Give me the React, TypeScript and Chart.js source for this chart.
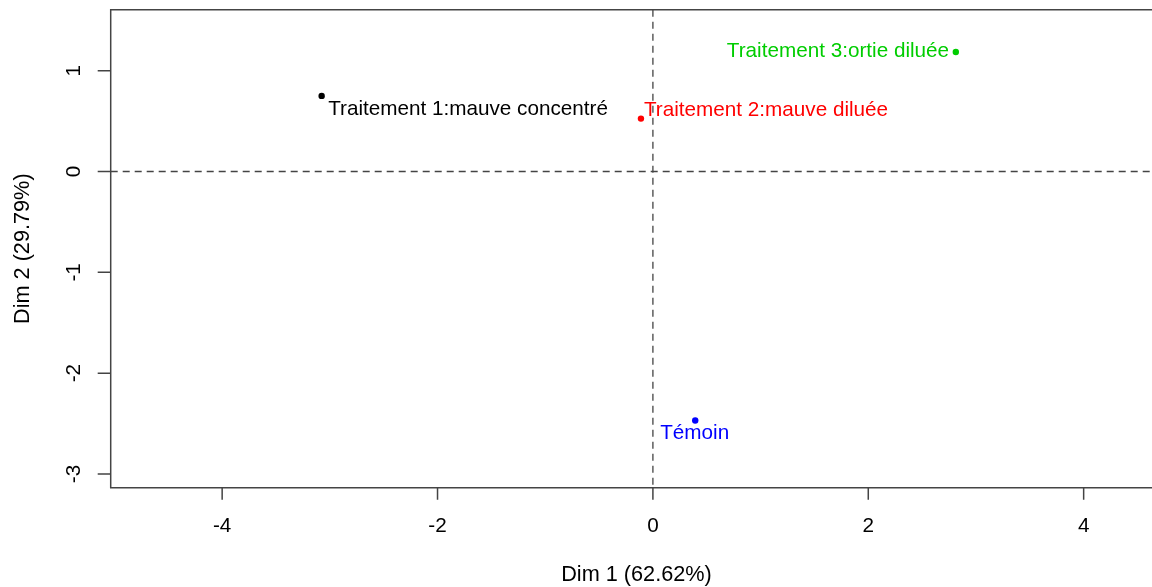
import React, { useEffect, useRef } from "react";
import { Chart, registerables } from "chart.js";

Chart.register(...registerables);

const categories = [
  "Traitement 1:mauve concentré",
  "Traitement 2:mauve diluée",
  "Traitement 3:ortie diluée",
  "Témoin",
];
const dim1 = [-3.076, -0.111, 2.813, 0.393];
const dim2 = [0.75, 0.525, 1.186, -2.47];
const pointColors = ["#000000", "#FF0000", "#00CD00", "#0000FF"];
const xTicks = [-4, -2, 0, 2, 4];
const yTicks = [-3, -2, -1, 0, 1];
const xTitle = "Dim 1 (62.62%)";
const yTitle = "Dim 2 (29.79%)";

const X_MIN = -5.035;
const X_MAX = 4.605;
const X_MAX_FULL = 4.73;
const Y_MIN = -3.136;
const Y_MAX = 1.605;

const labelOffsets = [
  { dx: 6.5, dy: 18.6, align: "left" },
  { dx: 3, dy: -2.3, align: "left" },
  { dx: -6.7, dy: 5, align: "right" },
  { dx: -35, dy: 18.7, align: "left" },
];

const FONT = '20.7px "Liberation Sans", Arial, sans-serif';
const TITLE_FONT = '21.7px "Liberation Sans", Arial, sans-serif';
const AXIS = "#444444";

const rPlot = {
  id: "rPlot",
  beforeDatasetsDraw(chart: any) {
    const { ctx, chartArea } = chart;
    const xs = chart.scales.x;
    const ys = chart.scales.y;
    const { left, top, right, bottom } = chartArea;
    ctx.save();
    // dashed zero lines
    ctx.strokeStyle = AXIS;
    ctx.lineWidth = 1.3;
    ctx.setLineDash([7, 5]);
    const x0 = xs.getPixelForValue(0);
    const y0 = ys.getPixelForValue(0);
    ctx.beginPath();
    ctx.moveTo(left, y0);
    ctx.lineTo(right + 10, y0);
    ctx.moveTo(x0, top);
    ctx.lineTo(x0, bottom);
    ctx.stroke();
    ctx.setLineDash([]);
    // box (right side lies outside the image)
    ctx.lineWidth = 1.5;
    ctx.beginPath();
    ctx.moveTo(right + 20, top);
    ctx.lineTo(left, top);
    ctx.lineTo(left, bottom);
    ctx.lineTo(right + 20, bottom);
    ctx.stroke();
    // ticks
    ctx.beginPath();
    xTicks.forEach((t) => {
      const px = xs.getPixelForValue(t);
      ctx.moveTo(px, bottom);
      ctx.lineTo(px, bottom + 12);
    });
    yTicks.forEach((t) => {
      const py = ys.getPixelForValue(t);
      ctx.moveTo(left, py);
      ctx.lineTo(left - 13, py);
    });
    ctx.stroke();
    // tick labels
    ctx.fillStyle = "#000000";
    ctx.font = FONT;
    ctx.textAlign = "center";
    ctx.textBaseline = "alphabetic";
    xTicks.forEach((t) => {
      ctx.fillText(String(t), xs.getPixelForValue(t), 532);
    });
    yTicks.forEach((t) => {
      ctx.save();
      ctx.translate(80, ys.getPixelForValue(t));
      ctx.rotate(-Math.PI / 2);
      ctx.fillText(String(t), 0, 0);
      ctx.restore();
    });
    // axis titles
    ctx.font = TITLE_FONT;
    const xc = (xs.getPixelForValue(X_MIN) + xs.getPixelForValue(X_MAX_FULL)) / 2;
    ctx.fillText(xTitle, xc, 581);
    ctx.save();
    ctx.translate(28.5, (top + bottom) / 2);
    ctx.rotate(-Math.PI / 2);
    ctx.fillText(yTitle, 0, 0);
    ctx.restore();
    ctx.restore();
  },
  afterDatasetsDraw(chart: any) {
    const { ctx } = chart;
    const xs = chart.scales.x;
    const ys = chart.scales.y;
    ctx.save();
    ctx.font = FONT;
    ctx.textBaseline = "alphabetic";
    categories.forEach((c, i) => {
      const o = labelOffsets[i];
      ctx.fillStyle = pointColors[i];
      ctx.textAlign = o.align;
      ctx.fillText(c, xs.getPixelForValue(dim1[i]) + o.dx, ys.getPixelForValue(dim2[i]) + o.dy);
    });
    ctx.restore();
  },
};

export default function App() {
  const ref = useRef<HTMLCanvasElement | null>(null);
  useEffect(() => {
    if (!ref.current) return;
    const chart = new Chart(ref.current, {
      type: "scatter",
      data: {
        datasets: [
          {
            label: "individus",
            data: dim1.map((x, i) => ({ x, y: dim2[i] })),
            pointBackgroundColor: pointColors,
            pointBorderWidth: 0,
            pointRadius: 3.2,
            pointHoverRadius: 3.2,
          },
        ],
      },
      options: {
        responsive: false,
        animation: false,
        events: [],
        layout: { padding: { left: 110.7, top: 9.7, right: 0, bottom: 99.3 } },
        plugins: { legend: { display: false }, tooltip: { enabled: false } },
        scales: {
          x: { type: "linear", display: false, min: X_MIN, max: X_MAX },
          y: { type: "linear", display: false, min: Y_MIN, max: Y_MAX },
        },
      },
      plugins: [rPlot],
    });
    return () => chart.destroy();
  }, []);
  return (
    <div style={{ position: "fixed", left: 0, top: 0, width: 1152, height: 587, background: "#fff" }}>
      <canvas ref={ref} width={1152} height={587} style={{ display: "block" }} />
    </div>
  );
}
